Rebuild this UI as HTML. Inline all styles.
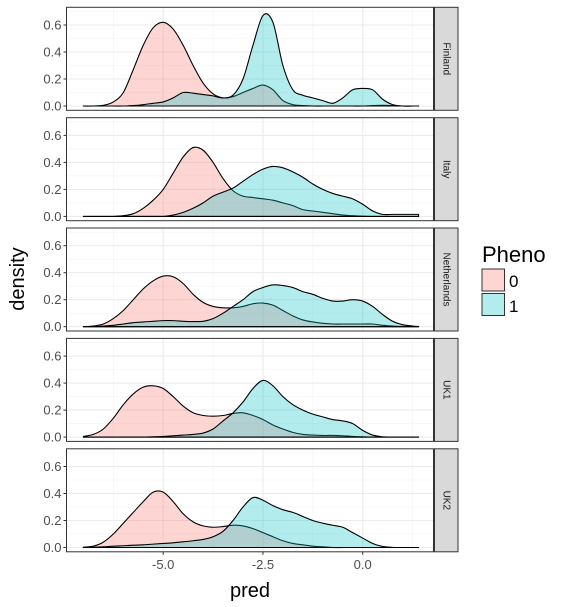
<!DOCTYPE html>
<html><head><meta charset="utf-8"><style>
body{margin:0;background:#fff;}
svg{display:block;font-family:"Liberation Sans",sans-serif;}
</style></head><body>
<svg id="chart" width="574" height="607" viewBox="0 0 574 607"></svg>
<script>
const xGrid=[-7,-6.75,-6.5,-6.25,-6,-5.75,-5.5,-5.25,-5,-4.75,-4.5,-4.25,-4,-3.75,-3.5,-3.25,-3,-2.75,-2.5,-2.25,-2,-1.75,-1.5,-1.25,-1,-0.75,-0.5,-0.25,0,0.25,0.5,0.75,1,1.25,1.4];
const panels=["Finland","Italy","Netherlands","UK1","UK2"];
const groups=["0","1"];
const finland0=[0,0,0.005,0.03,0.1,0.27,0.45,0.58,0.62,0.57,0.45,0.3,0.17,0.09,0.06,0.07,0.1,0.13,0.155,0.12,0.04,0.01,0.003,0,0,0,0,0,0,0.003,0.005,0.003,0,0,0];
const finland1=[0,0,0,0,0,0.003,0.01,0.02,0.03,0.06,0.1,0.095,0.085,0.075,0.06,0.08,0.2,0.45,0.67,0.62,0.3,0.12,0.08,0.06,0.04,0.02,0.06,0.12,0.13,0.12,0.05,0.01,0,0,0];
const italy0=[0,0,0,0,0.005,0.02,0.06,0.12,0.2,0.32,0.44,0.51,0.49,0.4,0.28,0.19,0.15,0.14,0.13,0.12,0.1,0.08,0.05,0.04,0.03,0.02,0.01,0.005,0.002,0,0,0,0,0,0];
const italy1=[0,0,0,0,0,0,0,0,0,0.01,0.03,0.06,0.1,0.15,0.18,0.21,0.26,0.31,0.35,0.37,0.36,0.33,0.29,0.24,0.2,0.17,0.15,0.13,0.09,0.04,0.015,0.015,0.015,0.015,0.015];
const neth0=[0,0.005,0.02,0.06,0.12,0.2,0.28,0.34,0.375,0.37,0.32,0.24,0.18,0.15,0.14,0.14,0.15,0.17,0.175,0.16,0.12,0.08,0.05,0.035,0.025,0.02,0.02,0.02,0.02,0.02,0.01,0.005,0.002,0,0];
const neth1=[0,0.002,0.005,0.01,0.02,0.03,0.035,0.04,0.045,0.045,0.04,0.038,0.04,0.06,0.1,0.15,0.2,0.26,0.29,0.31,0.305,0.29,0.26,0.24,0.21,0.19,0.19,0.2,0.19,0.15,0.09,0.04,0.015,0.005,0.002];
const uk10=[0.005,0.02,0.06,0.14,0.24,0.32,0.37,0.38,0.36,0.3,0.23,0.18,0.16,0.155,0.16,0.175,0.18,0.16,0.13,0.09,0.06,0.035,0.02,0.015,0.012,0.012,0.01,0.005,0.002,0,0,0,0,0,0];
const uk11=[0,0,0,0,0,0,0,0.002,0.005,0.01,0.015,0.02,0.03,0.06,0.12,0.18,0.26,0.36,0.42,0.38,0.3,0.24,0.2,0.17,0.15,0.13,0.12,0.1,0.05,0.015,0.002,0,0,0,0];
const uk20=[0.002,0.01,0.04,0.1,0.18,0.26,0.34,0.41,0.41,0.34,0.25,0.19,0.16,0.15,0.155,0.165,0.16,0.14,0.11,0.08,0.05,0.03,0.02,0.01,0.005,0,0,0,0,0,0,0,0,0,0];
const uk21=[0,0.002,0.005,0.01,0.013,0.017,0.02,0.025,0.03,0.035,0.042,0.05,0.06,0.08,0.12,0.2,0.3,0.37,0.35,0.31,0.28,0.26,0.23,0.2,0.18,0.165,0.15,0.11,0.07,0.03,0.008,0.001,0,0,0];
const series=[[finland0,finland1],[italy0,italy1],[neth0,neth1],[uk10,uk11],[uk20,uk21]];
const xTicks=[-5,-2.5,0];
const xTickLabels=["-5.0","-2.5","0.0"];
const yTicks=[0,0.2,0.4,0.6];
const yTickLabels=["0.0","0.2","0.4","0.6"];

const NS="http://www.w3.org/2000/svg";
const svg=document.getElementById('chart');
const PL=66.5,PR=433.5,PH=103,PT=[7.3,117.7,228,338.4,448.8];
const fills=["rgba(248,118,109,0.3)","rgba(0,191,196,0.3)"];
function sx(v){return 362.7+v*39.9;}
function sy(p,v){return PT[p]+98.7-v*135;}
function mk(tag,attrs,parent){const e=document.createElementNS(NS,tag);for(const k in attrs)e.setAttribute(k,attrs[k]);(parent||svg).appendChild(e);return e;}
function smooth(pts){let d="M"+pts[0][0]+","+pts[0][1];for(let i=0;i<pts.length-1;i++){const p0=pts[i-1]||pts[i],p1=pts[i],p2=pts[i+1],p3=pts[i+2]||p2;
const c1x=p1[0]+(p2[0]-p0[0])/6,c1y=p1[1]+(p2[1]-p0[1])/6,c2x=p2[0]-(p3[0]-p1[0])/6,c2y=p2[1]-(p3[1]-p1[1])/6;
d+=" C"+c1x.toFixed(2)+","+c1y.toFixed(2)+" "+c2x.toFixed(2)+","+c2y.toFixed(2)+" "+p2[0].toFixed(2)+","+p2[1].toFixed(2);}return d;}

panels.forEach((name,p)=>{
  const g=mk('g',{});
  
  
  mk('rect',{x:PL,y:PT[p],width:PR-PL,height:PH,fill:'#fff'},g);
  [-6.25,-3.75,-1.25,1.25].forEach(v=>mk('line',{x1:sx(v),x2:sx(v),y1:PT[p],y2:PT[p]+PH,stroke:'#f3f3f3','stroke-width':0.6},g));
  [0.1,0.3,0.5,0.7].forEach(v=>mk('line',{x1:PL,x2:PR,y1:sy(p,v),y2:sy(p,v),stroke:'#f3f3f3','stroke-width':0.6},g));
  xTicks.forEach(v=>mk('line',{x1:sx(v),x2:sx(v),y1:PT[p],y2:PT[p]+PH,stroke:'#ebebeb','stroke-width':1.1},g));
  yTicks.forEach(v=>mk('line',{x1:PL,x2:PR,y1:sy(p,v),y2:sy(p,v),stroke:'#ebebeb','stroke-width':1.1},g));
  series[p].forEach((vals,k)=>{
    const pts=xGrid.map((x,i)=>[sx(x),sy(p,vals[i])]);
    const d=smooth(pts)+" L"+sx(xGrid[xGrid.length-1])+","+sy(p,0)+" L"+sx(xGrid[0])+","+sy(p,0)+" Z";
    const path=mk('path',{d:d,fill:fills[k],stroke:'#000','stroke-width':1.1,'stroke-linejoin':'round'},g);
    
    
  });
  mk('rect',{x:PL,y:PT[p],width:PR-PL,height:PH,fill:'none',stroke:'#333','stroke-width':1},g);
  yTicks.forEach((v,i)=>{
    mk('line',{x1:PL-3,x2:PL,y1:sy(p,v),y2:sy(p,v),stroke:'#333','stroke-width':1},g);
    const t=mk('text',{x:PL-5,y:sy(p,v)+4.5,'text-anchor':'end','font-size':13,fill:'#4d4d4d'},g);
    t.textContent=yTickLabels[i];
    
    
  });
  const s=mk('rect',{x:PR+1,y:PT[p],width:23.5,height:PH,fill:'#d9d9d9',stroke:'#333','stroke-width':1},g);
  
  
  const cx=PR+12.5,cy=PT[p]+PH/2;
  const st=mk('text',{x:cx,y:cy,'text-anchor':'middle','font-size':10,fill:'#1a1a1a',transform:'rotate(90 '+cx+' '+cy+')','dominant-baseline':'central'},g);
  st.textContent=name;
  
  
});
const lastBottom=PT[4]+PH;
xTicks.forEach((v,i)=>{
  mk('line',{x1:sx(v),x2:sx(v),y1:lastBottom,y2:lastBottom+3,stroke:'#333','stroke-width':1});
  const t=mk('text',{x:sx(v),y:lastBottom+17,'text-anchor':'middle','font-size':13,fill:'#4d4d4d'});
  t.textContent=xTickLabels[i];
  
  
});
</script>
<div style="position:absolute;left:0;top:0;width:574px;height:607px;pointer-events:none;">
<svg width="574" height="607" style="position:absolute;left:0;top:0">
<text x="250" y="597" text-anchor="middle" font-size="20" fill="#000" font-family="Liberation Sans,sans-serif">pred</text>
<text x="0" y="0" text-anchor="middle" font-size="20" fill="#000" font-family="Liberation Sans,sans-serif" transform="translate(24 279) rotate(-90)">density</text>
<g>
<text x="482" y="262" font-size="22" fill="#000" font-family="Liberation Sans,sans-serif">Pheno</text>
<rect x="482" y="269" width="22.5" height="22" fill="rgba(248,118,109,0.3)" stroke="#333" stroke-width="1"/>
<text x="509" y="287" font-size="17" fill="#000" font-family="Liberation Sans,sans-serif">0</text>
<rect x="482" y="293.5" width="22.5" height="22" fill="rgba(0,191,196,0.3)" stroke="#333" stroke-width="1"/>
<text x="509" y="312" font-size="17" fill="#000" font-family="Liberation Sans,sans-serif">1</text>
</g>
</svg></div>
</body></html>
